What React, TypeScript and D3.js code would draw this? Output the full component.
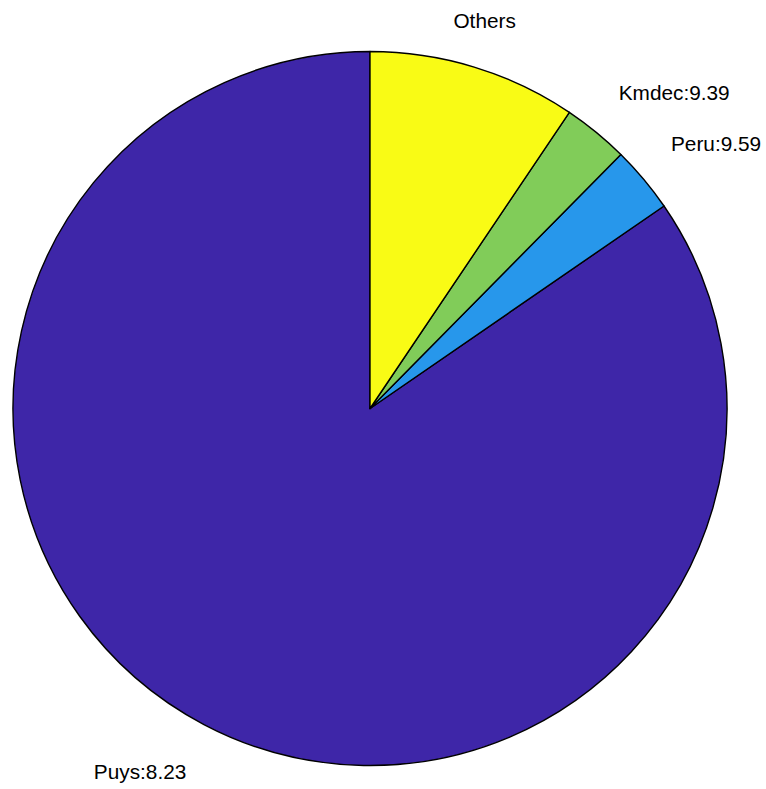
import React from "react";
import * as d3 from "d3";

const labels = ["Puys:8.23", "Peru:9.59", "Kmdec:9.39", "Others"];
const values = [84.6, 3.0, 2.97, 9.43];
const colors = ["#3E26A8", "#2797EB", "#81CC59", "#F9FB15"];

const W = 766;
const H = 789;
const cx = 370;
const cy = 408.5;
const R = 357;
const FS = 20.8;

export default function App() {
  const pie = d3
    .pie<number>()
    .sort(null)
    .value((d) => d)
    .startAngle(0)
    .endAngle(-2 * Math.PI);
  const arcs = pie(values);
  const arc = d3.arc<d3.PieArcDatum<number>>().innerRadius(0).outerRadius(R);

  return (
    <svg
      width={W}
      height={H}
      style={{ position: "absolute", left: 0, top: 0, background: "#fff" }}
    >
      <g transform={`translate(${cx},${cy})`}>
        {arcs.map((a, i) => (
          <path
            key={i}
            d={arc(a) || ""}
            fill={colors[i]}
            stroke="#000"
            strokeWidth={1.4}
            strokeLinejoin="round"
          />
        ))}
        {arcs.map((a, i) => {
          const mid = (a.startAngle + a.endAngle) / 2;
          const s = Math.sin(mid);
          const c = Math.cos(mid);
          const x = 1.1 * R * s;
          const y = -1.1 * R * c;
          const anchor = Math.abs(s) < 0.35 ? "middle" : s > 0 ? "start" : "end";
          const dy = c >= 0 ? -5 : 23;
          return (
            <text
              key={"t" + i}
              x={anchor === "end" ? x - 1 : x}
              y={y + dy}
              textAnchor={anchor}
              fontFamily="'Liberation Sans', Arial, Helvetica, sans-serif"
              fontSize={FS}
              fill="#000"
            >
              {labels[i]}
            </text>
          );
        })}
      </g>
    </svg>
  );
}
